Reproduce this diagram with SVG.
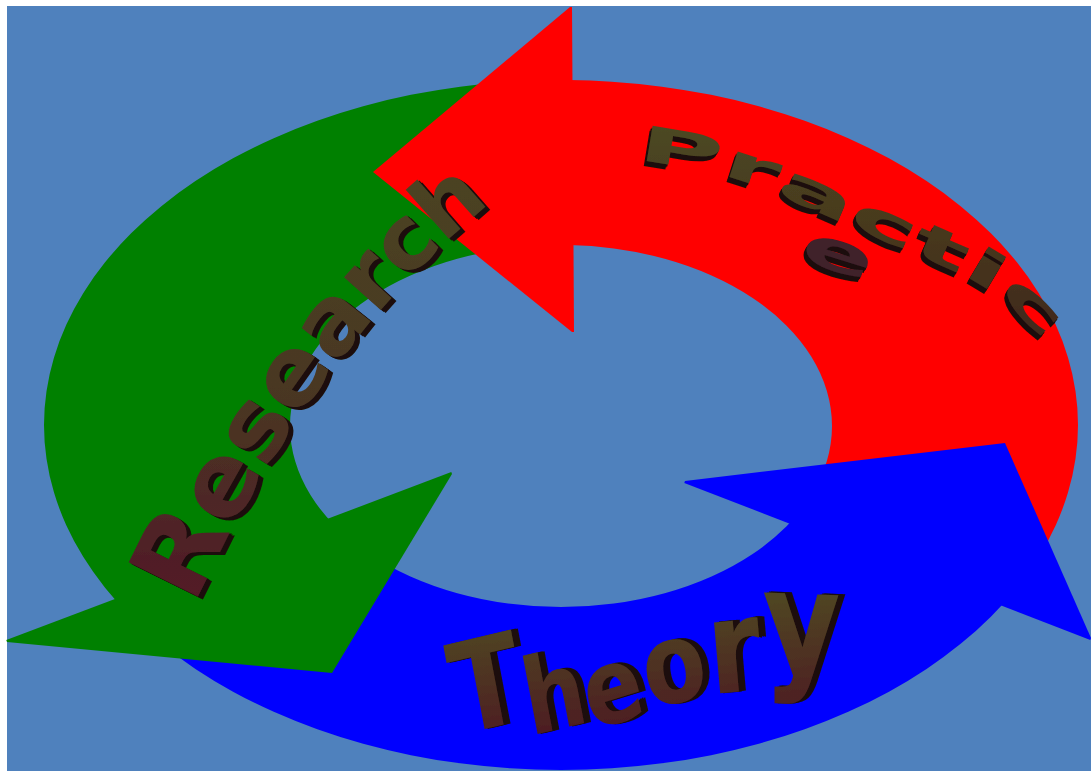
<svg xmlns="http://www.w3.org/2000/svg" xmlns:xlink="http://www.w3.org/1999/xlink" width="1091" height="771" viewBox="0 0 1091 771">
<style>
  .lbl { font-family: "DejaVu Sans", "Liberation Sans", sans-serif; font-weight: bold; }
  .red { fill: #FF0000; }
  .green { fill: #008000; }
  .blue { fill: #0000FF; }
</style>
<defs>
  <path id="ring" fill-rule="evenodd" d="M44,425 A517,345 0 1,0 1078,425 A517,345 0 1,0 44,425 Z M290,426 A271,181 0 1,0 832,426 A271,181 0 1,0 290,426 Z"/>
  <clipPath id="clipRed"><polygon points="572.6,437.5 569.6,-50 1300,-50 1300,718.8"/></clipPath>
  <clipPath id="clipGreen"><polygon points="572.6,428.5 569.6,-50 -100,-50 -100,682.4"/></clipPath>
  <clipPath id="clipBlue"><polygon points="560.7,433 -100,682.4 -100,900 1300,900 1300,718.8"/></clipPath>
  <path id="pathResearch" d="M194,606 Q315,345 493,201"/>
  <path id="pathPractic" d="M636,161 Q700,166 760,187 L958,273 Q1010,297 1046,346"/>
  <linearGradient id="gResearch" x1="0" y1="0" x2="0" y2="1">
    <stop offset="0" stop-color="#4b4524"/>
    <stop offset="0.55" stop-color="#4a3623"/>
    <stop offset="1" stop-color="#531628"/>
  </linearGradient>
  <linearGradient id="gPractic" x1="0" y1="0" x2="0" y2="1">
    <stop offset="0" stop-color="#4d4a22"/>
    <stop offset="1" stop-color="#40261a"/>
  </linearGradient>
  <linearGradient id="gTheory" gradientUnits="userSpaceOnUse" x1="0" y1="-110" x2="0" y2="5">
    <stop offset="0" stop-color="#4f4520"/>
    <stop offset="1" stop-color="#4e1c22"/>
  </linearGradient>
  <filter id="extR" x="-10%" y="-10%" width="125%" height="125%">
    <feOffset in="SourceAlpha" dx="1.5" dy="1" result="o1"/>
    <feOffset in="SourceAlpha" dx="3" dy="2" result="o2"/>
    <feOffset in="SourceAlpha" dx="4.5" dy="3" result="o3"/>
    <feMerge result="m"><feMergeNode in="o1"/><feMergeNode in="o2"/><feMergeNode in="o3"/></feMerge>
    <feFlood flood-color="#1c1108"/>
    <feComposite operator="in" in2="m" result="sh"/>
    <feMerge><feMergeNode in="sh"/><feMergeNode in="SourceGraphic"/></feMerge>
  </filter>
  <filter id="extP" x="-10%" y="-10%" width="125%" height="125%">
    <feOffset in="SourceAlpha" dx="-1" dy="1.5" result="o1"/>
    <feOffset in="SourceAlpha" dx="-2" dy="3" result="o2"/>
    <feOffset in="SourceAlpha" dx="-3" dy="4.5" result="o3"/>
    <feMerge result="m"><feMergeNode in="o1"/><feMergeNode in="o2"/><feMergeNode in="o3"/></feMerge>
    <feFlood flood-color="#1c1108"/>
    <feComposite operator="in" in2="m" result="sh"/>
    <feMerge><feMergeNode in="sh"/><feMergeNode in="SourceGraphic"/></feMerge>
  </filter>
  <filter id="extT" x="-10%" y="-10%" width="125%" height="125%">
    <feOffset in="SourceAlpha" dx="2.5" dy="-0.3" result="o1"/>
    <feOffset in="SourceAlpha" dx="5" dy="-0.6" result="o2"/>
    <feOffset in="SourceAlpha" dx="7" dy="-1" result="o3"/>
    <feMerge result="m"><feMergeNode in="o1"/><feMergeNode in="o2"/><feMergeNode in="o3"/></feMerge>
    <feFlood flood-color="#1c1108"/>
    <feComposite operator="in" in2="m" result="sh"/>
    <feMerge><feMergeNode in="sh"/><feMergeNode in="SourceGraphic"/></feMerge>
  </filter>
</defs>

<rect width="1091" height="771" fill="#FFFFFF"/>
<rect x="7" y="6" width="1084" height="765" fill="#4F81BD"/>

<g id="connectors">
  <g id="shafts">
    <use href="#ring" class="red" clip-path="url(#clipRed)"/>
    <use href="#ring" class="green" clip-path="url(#clipGreen)"/>
    <use href="#ring" class="blue" clip-path="url(#clipBlue)"/>
  </g>
  <g id="heads">
    <polygon class="red" points="570,7 373,172 572,332 574,332 572,7"/>
    <polygon class="green" points="6.3,640.1 451.3,472.1 452,474 332,673 7,642"/>
    <polygon class="blue" points="685,481 1005,443 1091,638 1090.3,639.9 684.3,482.9"/>
  </g>
</g>

<g id="node-research" class="lbl" filter="url(#extR)">
  <g fill="url(#gResearch)">
    <text id="tResearch"><textPath href="#pathResearch" textLength="505" lengthAdjust="spacingAndGlyphs"><tspan font-size="106">R</tspan><tspan font-size="100">e</tspan><tspan font-size="97">s</tspan><tspan font-size="95">e</tspan><tspan font-size="93">a</tspan><tspan font-size="90">r</tspan><tspan font-size="88">c</tspan><tspan font-size="86">h</tspan></textPath></text>
  </g>
</g>

<g id="node-practice" class="lbl" filter="url(#extP)">
  <g fill="url(#gPractic)">
    <text id="tPractic" font-size="49"><textPath href="#pathPractic" textLength="455" lengthAdjust="spacingAndGlyphs">Practic</textPath></text>
  </g>
  <g fill="#40202a">
    <text id="tE" font-size="54" x="801" y="271" textLength="73" lengthAdjust="spacingAndGlyphs" transform="rotate(17 837.5 256.5)">e</text>
  </g>
</g>

<g id="node-theory" class="lbl" filter="url(#extT)">
  <g fill="url(#gTheory)">
    <text id="tTheory" transform="translate(460,738) rotate(-5)" textLength="385" lengthAdjust="spacingAndGlyphs"><tspan font-size="125" dy="-3" rotate="-7">T</tspan><tspan font-size="105" dy="7" rotate="-7">h</tspan><tspan font-size="105" dy="0" rotate="-10">e</tspan><tspan font-size="112" dy="-17" rotate="-6">o</tspan><tspan font-size="130" dy="-9" rotate="0">r</tspan><tspan font-size="145" dy="-18" rotate="6">y</tspan></text>
  </g>
</g>
</svg>
